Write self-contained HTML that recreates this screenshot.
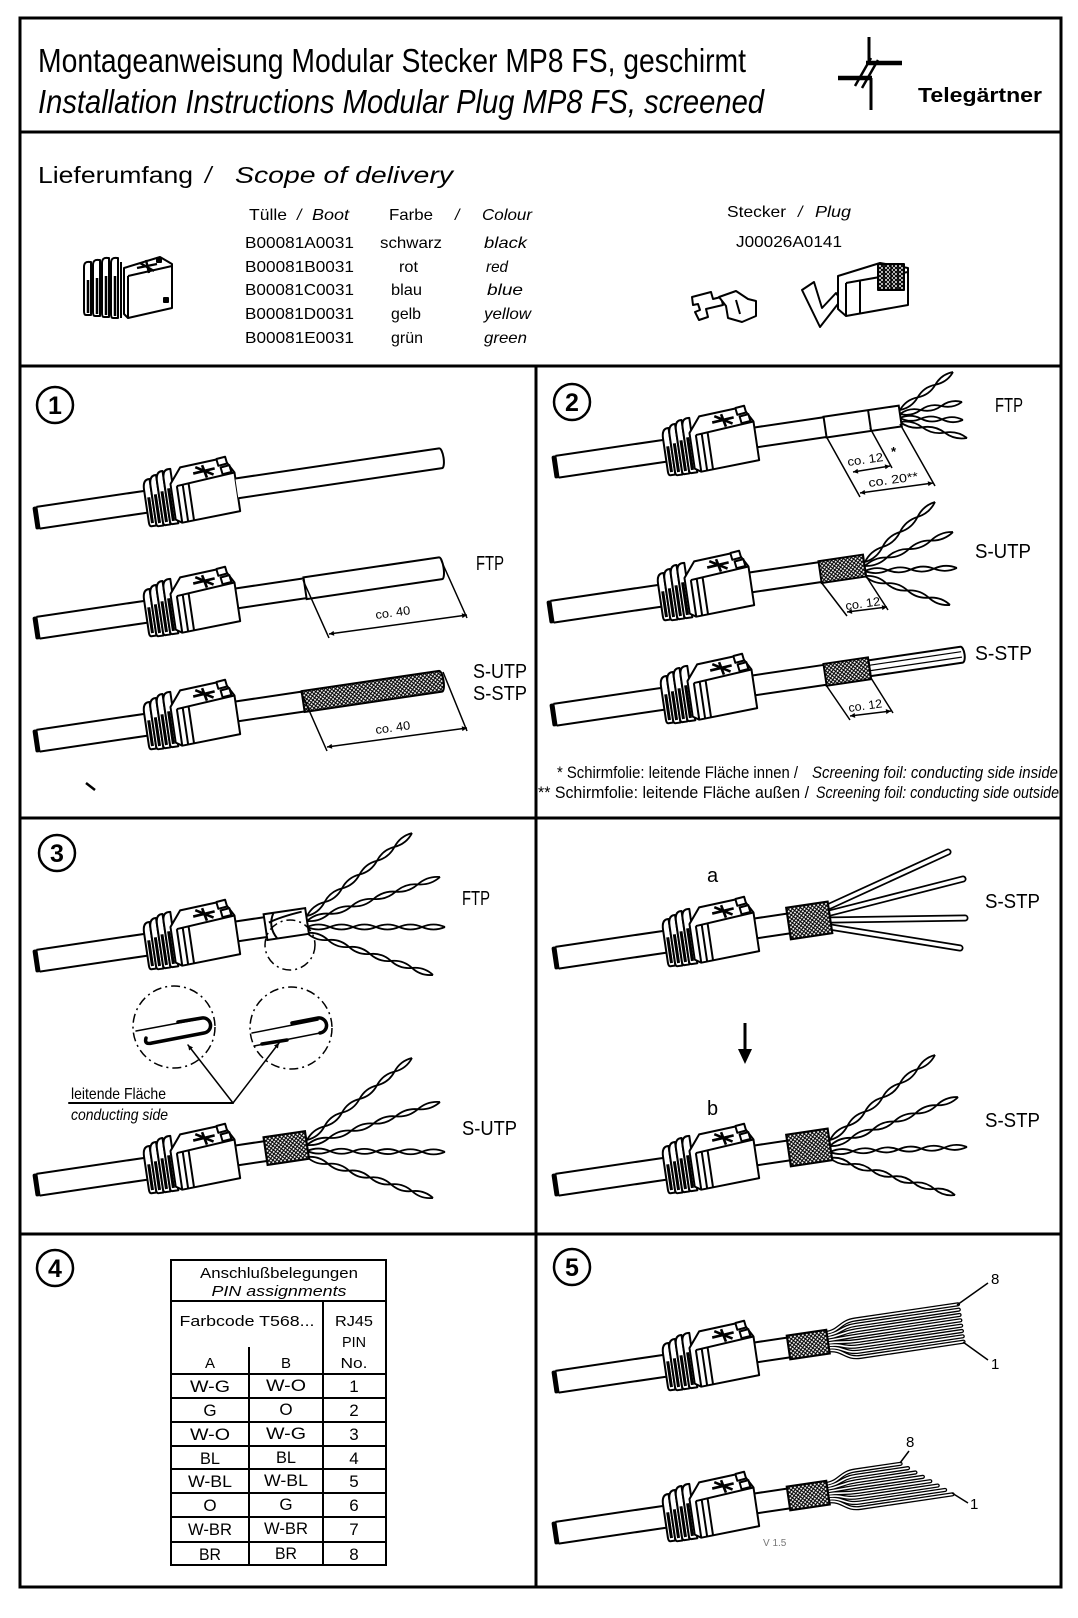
<!DOCTYPE html>
<html><head><meta charset="utf-8"><title>Montageanweisung MP8 FS</title>
<style>
html,body{margin:0;padding:0;background:#fff;width:1078px;height:1618px;overflow:hidden}
svg{display:block}
text{font-family:"Liberation Sans",Arial,sans-serif;fill:#000}
.i{font-style:italic}
.b{font-weight:bold}
</style></head><body>
<svg xmlns="http://www.w3.org/2000/svg" width="1078" height="1618" viewBox="0 0 1078 1618">
<defs>
<pattern id="br" width="4" height="4" patternUnits="userSpaceOnUse">
<rect width="4" height="4" fill="#fff"/>
<path d="M-1,-1 L5,5 M5,-1 L-1,5" stroke="#000" stroke-width="1.1"/>
</pattern>
<marker id="ar" viewBox="0 0 10 10" refX="10" refY="5" markerWidth="8" markerHeight="5" orient="auto-start-reverse" markerUnits="userSpaceOnUse"><path d="M0,0 L10,5 L0,10 Z" fill="#000"/></marker>
<g id="plug" stroke="#000" stroke-width="2" stroke-linejoin="round" fill="none">
<path d="M2,-11H114M2,11H114"/>
<rect x="-2" y="-11.5" width="5" height="23" rx="2" fill="#000" stroke="none"/>
<path fill="#fff" d="M111,-12 Q111,-22 117,-22 L118,-22 L118,25 L113,25 Q111,25 111,21 Z"/>
<path fill="#fff" d="M118,-15 Q118,-25 124,-25 L125,-25 L125,26 L120,26 Q118,26 118,22 Z"/>
<path fill="#fff" d="M125,-18 Q125,-28 131,-28 L132,-28 L132,26 L127,26 Q125,26 125,22 Z"/>
<path fill="#fff" d="M132,-20 Q132,-29 138,-29 L140,-29 L140,26 L134,26 Q132,26 132,22 Z"/>
<path d="M114.5,-4V22M121.5,-6V23M128.5,-8V23M135.5,-10V23" stroke-width="3"/>
<path fill="#fff" d="M138,-14 L150,-29 L194,-32 L203,-16 L203,23 L144,26 L138,22 Z"/>
<path d="M144,-11 L203,-16 M144,-11 V26 M150,-11.5 V25.5 M156,-12 V25"/>
<path fill="#fff" d="M187,-32 L196,-33 L197,-26 L188,-25 Z M190,-23 L199,-24 L200,-17 L191,-16 Z"/>
<path d="M162,-21 L184,-23 M172,-28 L175,-15 M165,-27 L182,-17" stroke-width="2.6"/>
</g>
<g id="tp6" fill="none">
<path vector-effect="non-scaling-stroke" d="M0,0 Q8.333,5 16.667,0 T33.333,0 T50,0 T66.667,0 T83.333,0 T100,0"/>
<path vector-effect="non-scaling-stroke" d="M0,0 Q8.333,-5 16.667,0 T33.333,0 T50,0 T66.667,0 T83.333,0 T100,0"/>
</g>
<g id="tp4" fill="none">
<path vector-effect="non-scaling-stroke" d="M0,0 Q12.5,5 25,0 T50,0 T75,0 T100,0"/>
<path vector-effect="non-scaling-stroke" d="M0,0 Q12.5,-5 25,0 T50,0 T75,0 T100,0"/>
</g>
<g id="tp3" fill="none">
<path vector-effect="non-scaling-stroke" d="M0,0 Q16.667,5 33.333,0 T66.667,0 T100,0"/>
<path vector-effect="non-scaling-stroke" d="M0,0 Q16.667,-5 33.333,0 T66.667,0 T100,0"/>
</g>
<g id="rb1" fill="none" stroke-linecap="round">
<path d="M274,-8.75 C290,-8.75 290,-18 306,-18 L410,-18"/>
<path d="M274,-6.25 C290,-6.25 290,-12.6 306,-12.6 L410,-12.6"/>
<path d="M274,-3.75 C290,-3.75 290,-7.2 306,-7.2 L410,-7.2"/>
<path d="M274,-1.25 C290,-1.25 290,-1.8 306,-1.8 L410,-1.8"/>
<path d="M274,1.25 C290,1.25 290,3.6 306,3.6 L410,3.6"/>
<path d="M274,3.75 C290,3.75 290,9 306,9 L410,9"/>
<path d="M274,6.25 C290,6.25 290,14.4 306,14.4 L410,14.4"/>
<path d="M274,8.75 C290,8.75 290,19.8 306,19.8 L410,19.8"/>
</g>
<g id="rb2" fill="none" stroke-linecap="round">
<path d="M274,-8.75 C290,-8.75 290,-18 306,-18 L352,-18"/>
<path d="M274,-6.25 C290,-6.25 290,-12.6 306,-12.6 L358.7,-12.6"/>
<path d="M274,-3.75 C290,-3.75 290,-7.2 306,-7.2 L365.4,-7.2"/>
<path d="M274,-1.25 C290,-1.25 290,-1.8 306,-1.8 L372.1,-1.8"/>
<path d="M274,1.25 C290,1.25 290,3.6 306,3.6 L378.8,3.6"/>
<path d="M274,3.75 C290,3.75 290,9 306,9 L385.5,9"/>
<path d="M274,6.25 C290,6.25 290,14.4 306,14.4 L392.2,14.4"/>
<path d="M274,8.75 C290,8.75 290,19.8 306,19.8 L399,19.8"/>
</g>
<g id="bars" fill="none" stroke-linecap="round">
<path d="M830,906 L948,852"/>
<path d="M830,913 L963,879"/>
<path d="M830,920 L965,918"/>
<path d="M830,927 L960,948"/>
</g>
</defs>

<rect width="1078" height="1618" fill="#fff"/>

<!-- FRAME -->
<g stroke="#000" stroke-width="3" fill="none">
<rect x="20" y="18" width="1041" height="1569"/>
<path d="M20,132 H1061 M20,366 H1061 M20,818 H1061 M20,1234 H1061 M536,366 V1587"/>
</g>

<!-- HEADER -->
<text x="38" y="72" font-size="33" textLength="708" lengthAdjust="spacingAndGlyphs">Montageanweisung Modular Stecker MP8 FS, geschirmt</text>
<text x="38" y="113" font-size="33" class="i" textLength="726" lengthAdjust="spacingAndGlyphs">Installation Instructions Modular Plug MP8 FS, screened</text>
<g stroke="#000" fill="none" stroke-linecap="butt">
<path d="M869,37 V63" stroke-width="3"/>
<path d="M866,63 H902" stroke-width="4.5"/>
<path d="M838,78 H872" stroke-width="4.5"/>
<path d="M871,78 V110" stroke-width="3"/>
<path d="M855,86 L871,58 M862,88 L878,60" stroke-width="2.5"/>
</g>
<text x="918" y="102" font-size="20" class="b" textLength="124" lengthAdjust="spacingAndGlyphs">Telegärtner</text>

<!-- SCOPE OF DELIVERY -->
<text x="38" y="183" font-size="23" textLength="155" lengthAdjust="spacingAndGlyphs">Lieferumfang</text>
<text x="205" y="183" font-size="23" class="i">/</text>
<text x="235" y="183" font-size="23" class="i" textLength="218" lengthAdjust="spacingAndGlyphs">Scope of delivery</text>

<g font-size="16">
<text x="249" y="220" textLength="38" lengthAdjust="spacingAndGlyphs">Tülle</text>
<text x="297" y="220" class="i">/</text>
<text x="312" y="220" class="i" textLength="37" lengthAdjust="spacingAndGlyphs">Boot</text>
<text x="389" y="220" textLength="44" lengthAdjust="spacingAndGlyphs">Farbe</text>
<text x="455" y="220" class="i">/</text>
<text x="482" y="220" class="i" textLength="50" lengthAdjust="spacingAndGlyphs">Colour</text>

<text x="245" y="248" textLength="109" lengthAdjust="spacingAndGlyphs">B00081A0031</text>
<text x="380" y="248" textLength="62" lengthAdjust="spacingAndGlyphs">schwarz</text>
<text x="484" y="248" class="i" textLength="43" lengthAdjust="spacingAndGlyphs">black</text>
<text x="245" y="272" textLength="109" lengthAdjust="spacingAndGlyphs">B00081B0031</text>
<text x="399" y="272" textLength="19" lengthAdjust="spacingAndGlyphs">rot</text>
<text x="486" y="272" class="i" textLength="22" lengthAdjust="spacingAndGlyphs">red</text>
<text x="245" y="295" textLength="109" lengthAdjust="spacingAndGlyphs">B00081C0031</text>
<text x="391" y="295" textLength="31" lengthAdjust="spacingAndGlyphs">blau</text>
<text x="487" y="295" class="i" textLength="36" lengthAdjust="spacingAndGlyphs">blue</text>
<text x="245" y="319" textLength="109" lengthAdjust="spacingAndGlyphs">B00081D0031</text>
<text x="391" y="319" textLength="30" lengthAdjust="spacingAndGlyphs">gelb</text>
<text x="484" y="319" class="i" textLength="47" lengthAdjust="spacingAndGlyphs">yellow</text>
<text x="245" y="343" textLength="109" lengthAdjust="spacingAndGlyphs">B00081E0031</text>
<text x="391" y="343" textLength="32" lengthAdjust="spacingAndGlyphs">grün</text>
<text x="484" y="343" class="i" textLength="43" lengthAdjust="spacingAndGlyphs">green</text>

<text x="727" y="217" textLength="59" lengthAdjust="spacingAndGlyphs">Stecker</text>
<text x="798" y="217" class="i">/</text>
<text x="815" y="217" class="i" textLength="36" lengthAdjust="spacingAndGlyphs">Plug</text>
<text x="736" y="247" textLength="106" lengthAdjust="spacingAndGlyphs">J00026A0141</text>
</g>

<!-- boot icon -->
<g stroke="#000" stroke-width="2" fill="#fff" stroke-linejoin="round">
<path d="M84,267 Q84,261 90,262 L91,262 L91,315 L86,315 Q84,315 84,311 Z"/>
<path d="M93,265 Q93,259 99,260 L100,260 L100,316 L95,316 Q93,316 93,312 Z"/>
<path d="M102,263 Q102,257 108,258 L109,258 L109,317 L104,317 Q102,317 102,313 Z"/>
<path d="M111,263 Q111,257 117,258 L118,258 L118,318 L113,318 Q111,318 111,314 Z"/>
<path d="M88,280 V313 M97,278 V314 M106,276 V315 M115,276 V316" stroke-width="2.5" fill="none"/>
<path d="M121,262 V318" fill="none"/>
<path d="M124,268 L160,257 L172,264 L172,308 L128,318 L124,314 Z"/>
<path d="M128,276 L172,266 M128,276 V318" fill="none"/>
<path d="M137,268 L157,264 M146,260 L149,273 M140,263 L154,271" stroke-width="2.4" fill="none"/>
<rect x="157" y="258" width="4" height="4" fill="#000"/>
<rect x="164" y="298" width="4" height="4" fill="#000"/>
</g>
<!-- clip icon -->
<g stroke="#000" stroke-width="2" fill="#fff" stroke-linejoin="round">
<path d="M692,297 L711,292 L713,299 L721,297 L723,305 L706,309 L708,317 L699,320 L695,312 L700,310 L698,304 L693,305 Z"/>
<path d="M719,297 L736,291 L748,299 L756,301 L756,316 L742,322 L728,318 L726,306 Z"/>
<path d="M736,300 L740,314" fill="none"/>
</g>
<!-- plug icon -->
<g stroke="#000" stroke-width="2" fill="#fff" stroke-linejoin="round">
<path d="M802,290 L814,282 L822,308 L836,293 L841,300 L820,327 Z"/>
<path d="M838,276 L880,263 L908,268 L908,305 L846,316 L838,309 Z"/>
<path d="M846,283 L908,272 M846,283 V316 M860,280 V313" fill="none"/>
<rect x="878" y="264" width="26" height="26" fill="url(#br)"/>
<path d="M884,264 V290 M891,264 V290 M898,264 V290" fill="none" stroke-width="1.5"/>
</g>

<!-- CIRCLED NUMBERS -->
<g stroke="#000" stroke-width="2.5" fill="none">
<circle cx="55" cy="405" r="18"/>
<circle cx="572" cy="402" r="18"/>
<circle cx="57" cy="853" r="18"/>
<circle cx="55" cy="1268" r="18"/>
<circle cx="572" cy="1267" r="18"/>
</g>
<g font-size="25" class="b" text-anchor="middle">
<text x="55" y="414">1</text>
<text x="572" y="411">2</text>
<text x="57" y="862">3</text>
<text x="55" y="1277">4</text>
<text x="572" y="1276">5</text>
</g>

<!-- ===== SECTION 1 ===== -->
<g transform="translate(36,518) rotate(-8.4)" stroke="#000" stroke-width="2" fill="none">
<use href="#plug"/>
<path fill="#fff" d="M203,-10 H409 A3,10 0 0 1 409,10 H203"/>
</g>
<g transform="translate(36,628) rotate(-8.4)" stroke="#000" stroke-width="2" fill="none">
<use href="#plug"/>
<path d="M203,-10 H272 M203,10 H272"/>
<path fill="#fff" d="M272,-11 H409 A3,11 0 0 1 409,11 H272 Z"/>
</g>
<g transform="translate(36,741) rotate(-8.4)" stroke="#000" stroke-width="2" fill="none">
<use href="#plug"/>
<path d="M203,-10 H270 M203,10 H270"/>
<path fill="url(#br)" d="M270,-10.5 H409 A3,10.5 0 0 1 409,10.5 H270 Z"/>
</g>
<g stroke="#000" stroke-width="1.5" fill="none">
<path d="M303,580 L329,638 M441,560 L467,618"/>
<path d="M329,634 L467,615" marker-start="url(#ar)" marker-end="url(#ar)"/>
<path d="M301,692 L327,751 M443,672 L467,731"/>
<path d="M327,747 L467,728" marker-start="url(#ar)" marker-end="url(#ar)"/>
<path d="M86,783 L95,790" stroke-width="2.5"/>
</g>
<text x="376" y="619" font-size="12" textLength="35" lengthAdjust="spacingAndGlyphs" transform="rotate(-8 376 619)">co. 40</text>
<text x="376" y="734" font-size="12" textLength="35" lengthAdjust="spacingAndGlyphs" transform="rotate(-8 376 734)">co. 40</text>
<g font-size="20">
<text x="476" y="570" textLength="28" lengthAdjust="spacingAndGlyphs">FTP</text>
<text x="473" y="678" textLength="54" lengthAdjust="spacingAndGlyphs">S-UTP</text>
<text x="473" y="700" textLength="54" lengthAdjust="spacingAndGlyphs">S-STP</text>
</g>

<!-- ===== SECTION 2 ===== -->
<g stroke="#000" stroke-width="1.8">
<use href="#tp3" transform="translate(900,410) rotate(-35.6) scale(0.652,1)"/>
<use href="#tp3" transform="translate(900,414) rotate(-11) scale(0.632,1)"/>
<use href="#tp3" transform="translate(900,418) rotate(1.8) scale(0.63,1)"/>
<use href="#tp3" transform="translate(900,422) rotate(13.4) scale(0.689,1)"/>
<use href="#tp4" transform="translate(865,562) rotate(-40.6) scale(0.922,1)"/>
<use href="#tp4" transform="translate(865,566) rotate(-21.1) scale(0.943,1)"/>
<use href="#tp4" transform="translate(865,571) rotate(-1.9) scale(0.92,1)"/>
<use href="#tp4" transform="translate(865,576) rotate(18.8) scale(0.898,1)"/>
</g>
<g transform="translate(555,467) rotate(-8.4)" stroke="#000" stroke-width="2" fill="none">
<use href="#plug"/>
<path d="M203,-10 H273 M203,10 H273"/>
<path fill="#fff" d="M273,-10.5 H349 V10.5 H273 Z M318,-10.5 V10.5"/>
</g>
<g transform="translate(550,612) rotate(-8.4)" stroke="#000" stroke-width="2" fill="none">
<use href="#plug"/>
<path d="M203,-10 H273 M203,10 H273"/>
<rect x="273" y="-11" width="45" height="22" fill="url(#br)"/>
</g>
<g transform="translate(553,715) rotate(-8.4)" stroke="#000" stroke-width="2" fill="none">
<use href="#plug"/>
<path d="M203,-10 H275 M203,10 H275"/>
<path fill="#fff" d="M320,-8 H413 A3,8 0 0 1 413,8 H320 Z"/>
<path d="M320,-3 H413 M320,2.5 H413" stroke-width="1.2"/>
<rect x="275" y="-11" width="45" height="22" fill="url(#br)"/>
</g>
<g stroke="#000" stroke-width="1.5" fill="none">
<path d="M826,436 L860,497 M870,428 L892,468 M900,424 L935,486"/>
<path d="M853,472 L890,466" marker-start="url(#ar)" marker-end="url(#ar)"/>
<path d="M860,493 L933,483" marker-start="url(#ar)" marker-end="url(#ar)"/>
<path d="M821,582 L847,616 M866,576 L888,610"/>
<path d="M847,612 L887,607" marker-start="url(#ar)" marker-end="url(#ar)"/>
<path d="M826,685 L850,720 M871,678 L893,713"/>
<path d="M850,716 L891,711" marker-start="url(#ar)" marker-end="url(#ar)"/>
</g>
<g font-size="12">
<text x="848" y="466" textLength="36" lengthAdjust="spacingAndGlyphs" transform="rotate(-8 848 466)">co. 12</text>
<text x="891" y="456" font-size="13" class="b">*</text>
<text x="869" y="487" textLength="50" lengthAdjust="spacingAndGlyphs" transform="rotate(-8 869 487)">co. 20**</text>
<text x="846" y="610" textLength="35" lengthAdjust="spacingAndGlyphs" transform="rotate(-8 846 610)">co. 12</text>
<text x="849" y="712" textLength="34" lengthAdjust="spacingAndGlyphs" transform="rotate(-8 849 712)">co. 12</text>
</g>
<g font-size="20">
<text x="995" y="412" textLength="28" lengthAdjust="spacingAndGlyphs">FTP</text>
<text x="975" y="558" textLength="56" lengthAdjust="spacingAndGlyphs">S-UTP</text>
<text x="975" y="660" textLength="57" lengthAdjust="spacingAndGlyphs">S-STP</text>
</g>
<g font-size="17">
<text x="557" y="778" textLength="241" lengthAdjust="spacingAndGlyphs">* Schirmfolie: leitende Fläche innen /</text>
<text x="812" y="778" class="i" textLength="246" lengthAdjust="spacingAndGlyphs">Screening foil: conducting side inside</text>
<text x="538" y="798" textLength="271" lengthAdjust="spacingAndGlyphs">** Schirmfolie: leitende Fläche außen /</text>
<text x="816" y="798" class="i" textLength="243" lengthAdjust="spacingAndGlyphs">Screening foil: conducting side outside</text>
</g>

<!-- ===== SECTION 3 LEFT ===== -->
<g stroke="#000" stroke-width="1.8">
<use href="#tp6" transform="translate(307,916) rotate(-38.3) scale(1.338,1)"/>
<use href="#tp6" transform="translate(307,921) rotate(-18.3) scale(1.401,1)"/>
<use href="#tp6" transform="translate(307,927) rotate(0) scale(1.38,1)"/>
<use href="#tp6" transform="translate(307,933) rotate(18.4) scale(1.328,1)"/>
<use href="#tp6" transform="translate(307,1140) rotate(-38) scale(1.332,1)"/>
<use href="#tp6" transform="translate(307,1145) rotate(-17.9) scale(1.398,1)"/>
<use href="#tp6" transform="translate(307,1151) rotate(0.4) scale(1.38,1)"/>
<use href="#tp6" transform="translate(307,1157) rotate(18) scale(1.325,1)"/>
</g>
<g transform="translate(36,961) rotate(-8.4)" stroke="#000" stroke-width="2" fill="none">
<use href="#plug"/>
<path d="M203,-10 H232 M203,10 H232"/>
<path fill="#fff" d="M232,-13 H274 V13 H232 Z"/>
<path d="M242,-13 Q234,0 242,13 M236,-4 Q248,-8 270,-10"/>
</g>
<g transform="translate(36,1185) rotate(-8.4)" stroke="#000" stroke-width="2" fill="none">
<use href="#plug"/>
<path d="M203,-10 H232 M203,10 H232"/>
<rect x="232" y="-14" width="42" height="28" fill="url(#br)"/>
</g>
<g stroke="#000" stroke-width="1.5" fill="none" stroke-dasharray="9 4 2 4">
<circle cx="290" cy="945" r="25"/>
<circle cx="174" cy="1027" r="41"/>
<circle cx="291" cy="1028" r="41"/>
</g>
<g stroke="#000" fill="none" stroke-linecap="round">
<path d="M136,1031 L200,1019" stroke-width="1.5"/>
<path d="M178,1022 L202,1018 A7.5,7.5 0 0 1 204,1033 L152,1043 Q144,1045 146,1038" stroke-width="3.5"/>
<path d="M252,1033 L318,1020" stroke-width="1.5"/>
<path d="M292,1023 L318,1018 A7.5,7.5 0 0 1 320,1033" stroke-width="3.5"/>
<path d="M320,1033 L254,1046" stroke-width="1.5"/>
<path d="M262,1044 L287,1040" stroke-width="3.5"/>
<path d="M69,1103 H233" stroke-width="2"/>
<path d="M233,1103 L188,1045" stroke-width="1.5" marker-end="url(#ar)"/>
<path d="M233,1103 L279,1043" stroke-width="1.5" marker-end="url(#ar)"/>
</g>
<text x="71" y="1099" font-size="16" textLength="95" lengthAdjust="spacingAndGlyphs">leitende Fläche</text>
<text x="71" y="1120" font-size="16" class="i" textLength="97" lengthAdjust="spacingAndGlyphs">conducting side</text>
<g font-size="20">
<text x="462" y="905" textLength="28" lengthAdjust="spacingAndGlyphs">FTP</text>
<text x="462" y="1135" textLength="55" lengthAdjust="spacingAndGlyphs">S-UTP</text>
</g>

<!-- ===== SECTION 3 RIGHT ===== -->
<use href="#bars" stroke="#000" stroke-width="7"/>
<use href="#bars" stroke="#fff" stroke-width="3.5"/>
<g transform="translate(555,958) rotate(-8.4)" stroke="#000" stroke-width="2" fill="none">
<use href="#plug"/>
<path d="M203,-10 H236 M203,10 H236"/>
<rect x="236" y="-16" width="42" height="32" fill="url(#br)"/>
</g>
<g stroke="#000" stroke-width="1.8">
<use href="#tp6" transform="translate(830,1140) rotate(-39) scale(1.351,1)"/>
<use href="#tp6" transform="translate(830,1146) rotate(-20.9) scale(1.371,1)"/>
<use href="#tp6" transform="translate(830,1152) rotate(-2.1) scale(1.371,1)"/>
<use href="#tp6" transform="translate(830,1158) rotate(16.5) scale(1.304,1)"/>
</g>
<g transform="translate(555,1185) rotate(-8.4)" stroke="#000" stroke-width="2" fill="none">
<use href="#plug"/>
<path d="M203,-10 H236 M203,10 H236"/>
<rect x="236" y="-16" width="42" height="32" fill="url(#br)"/>
</g>
<path d="M745,1023 V1052" stroke="#000" stroke-width="3"/>
<path d="M738,1049 L752,1049 L745,1064 Z" fill="#000"/>
<g font-size="20">
<text x="707" y="882">a</text>
<text x="707" y="1115">b</text>
<text x="985" y="908" textLength="55" lengthAdjust="spacingAndGlyphs">S-STP</text>
<text x="985" y="1127" textLength="55" lengthAdjust="spacingAndGlyphs">S-STP</text>
</g>

<!-- ===== SECTION 4 TABLE ===== -->
<g stroke="#000" stroke-width="2" fill="none">
<rect x="171" y="1260" width="215" height="305"/>
<path d="M171,1301 H386 M171,1374 H386 M171,1398 H386 M171,1422 H386 M171,1446 H386 M171,1469 H386 M171,1493 H386 M171,1517 H386 M171,1542 H386"/>
<path d="M249,1347 V1565 M323,1301 V1565"/>
</g>
<g font-size="15" text-anchor="middle">
<text x="279" y="1278" textLength="158" lengthAdjust="spacingAndGlyphs">Anschlußbelegungen</text>
<text x="279" y="1296" class="i" textLength="135" lengthAdjust="spacingAndGlyphs">PIN assignments</text>
<text x="247" y="1326" textLength="135" lengthAdjust="spacingAndGlyphs">Farbcode T568...</text>
<text x="354" y="1326" textLength="38" lengthAdjust="spacingAndGlyphs">RJ45</text>
<text x="354" y="1347" textLength="24" lengthAdjust="spacingAndGlyphs">PIN</text>
<text x="354" y="1368" textLength="27" lengthAdjust="spacingAndGlyphs">No.</text>
<text x="210" y="1368">A</text>
<text x="286" y="1368">B</text>
</g>
<g font-size="17" text-anchor="middle">
<text x="210" y="1392" textLength="40" lengthAdjust="spacingAndGlyphs">W-G</text>
<text x="286" y="1391" textLength="40" lengthAdjust="spacingAndGlyphs">W-O</text>
<text x="354" y="1392">1</text>
<text x="210" y="1416">G</text>
<text x="286" y="1415">O</text>
<text x="354" y="1416">2</text>
<text x="210" y="1440" textLength="40" lengthAdjust="spacingAndGlyphs">W-O</text>
<text x="286" y="1439" textLength="40" lengthAdjust="spacingAndGlyphs">W-G</text>
<text x="354" y="1440">3</text>
<text x="210" y="1464" textLength="20" lengthAdjust="spacingAndGlyphs">BL</text>
<text x="286" y="1463" textLength="20" lengthAdjust="spacingAndGlyphs">BL</text>
<text x="354" y="1464">4</text>
<text x="210" y="1487" textLength="44" lengthAdjust="spacingAndGlyphs">W-BL</text>
<text x="286" y="1486" textLength="44" lengthAdjust="spacingAndGlyphs">W-BL</text>
<text x="354" y="1487">5</text>
<text x="210" y="1511">O</text>
<text x="286" y="1510">G</text>
<text x="354" y="1511">6</text>
<text x="210" y="1535" textLength="44" lengthAdjust="spacingAndGlyphs">W-BR</text>
<text x="286" y="1534" textLength="44" lengthAdjust="spacingAndGlyphs">W-BR</text>
<text x="354" y="1535">7</text>
<text x="210" y="1560" textLength="22" lengthAdjust="spacingAndGlyphs">BR</text>
<text x="286" y="1559" textLength="22" lengthAdjust="spacingAndGlyphs">BR</text>
<text x="354" y="1560">8</text>
</g>

<!-- ===== SECTION 5 ===== -->
<g transform="translate(555,1382) rotate(-8.4)" stroke="#000" stroke-width="2" fill="none">
<use href="#plug"/>
<path d="M203,-10 H236 M203,10 H236"/>
<use href="#rb1" stroke="#000" stroke-width="4.2"/>
<use href="#rb1" stroke="#fff" stroke-width="1.6"/>
<rect x="236" y="-12" width="40" height="24" fill="url(#br)"/>
</g>
<g transform="translate(555,1533) rotate(-8.4)" stroke="#000" stroke-width="2" fill="none">
<use href="#plug"/>
<path d="M203,-10 H236 M203,10 H236"/>
<use href="#rb2" stroke="#000" stroke-width="4.2"/>
<use href="#rb2" stroke="#fff" stroke-width="1.6"/>
<rect x="236" y="-12" width="40" height="24" fill="url(#br)"/>
</g>
<g stroke="#000" stroke-width="1.5" fill="none">
<path d="M957,1305 L988,1283 M963,1342 L988,1360"/>
<path d="M900,1463 L909,1451 M952,1493 L968,1503"/>
</g>
<g font-size="15">
<text x="991" y="1284">8</text>
<text x="991" y="1369">1</text>
<text x="906" y="1447">8</text>
<text x="970" y="1509">1</text>
</g>
<text x="763" y="1546" font-size="10" style="fill:#777">V 1.5</text>
</svg>
</body></html>
